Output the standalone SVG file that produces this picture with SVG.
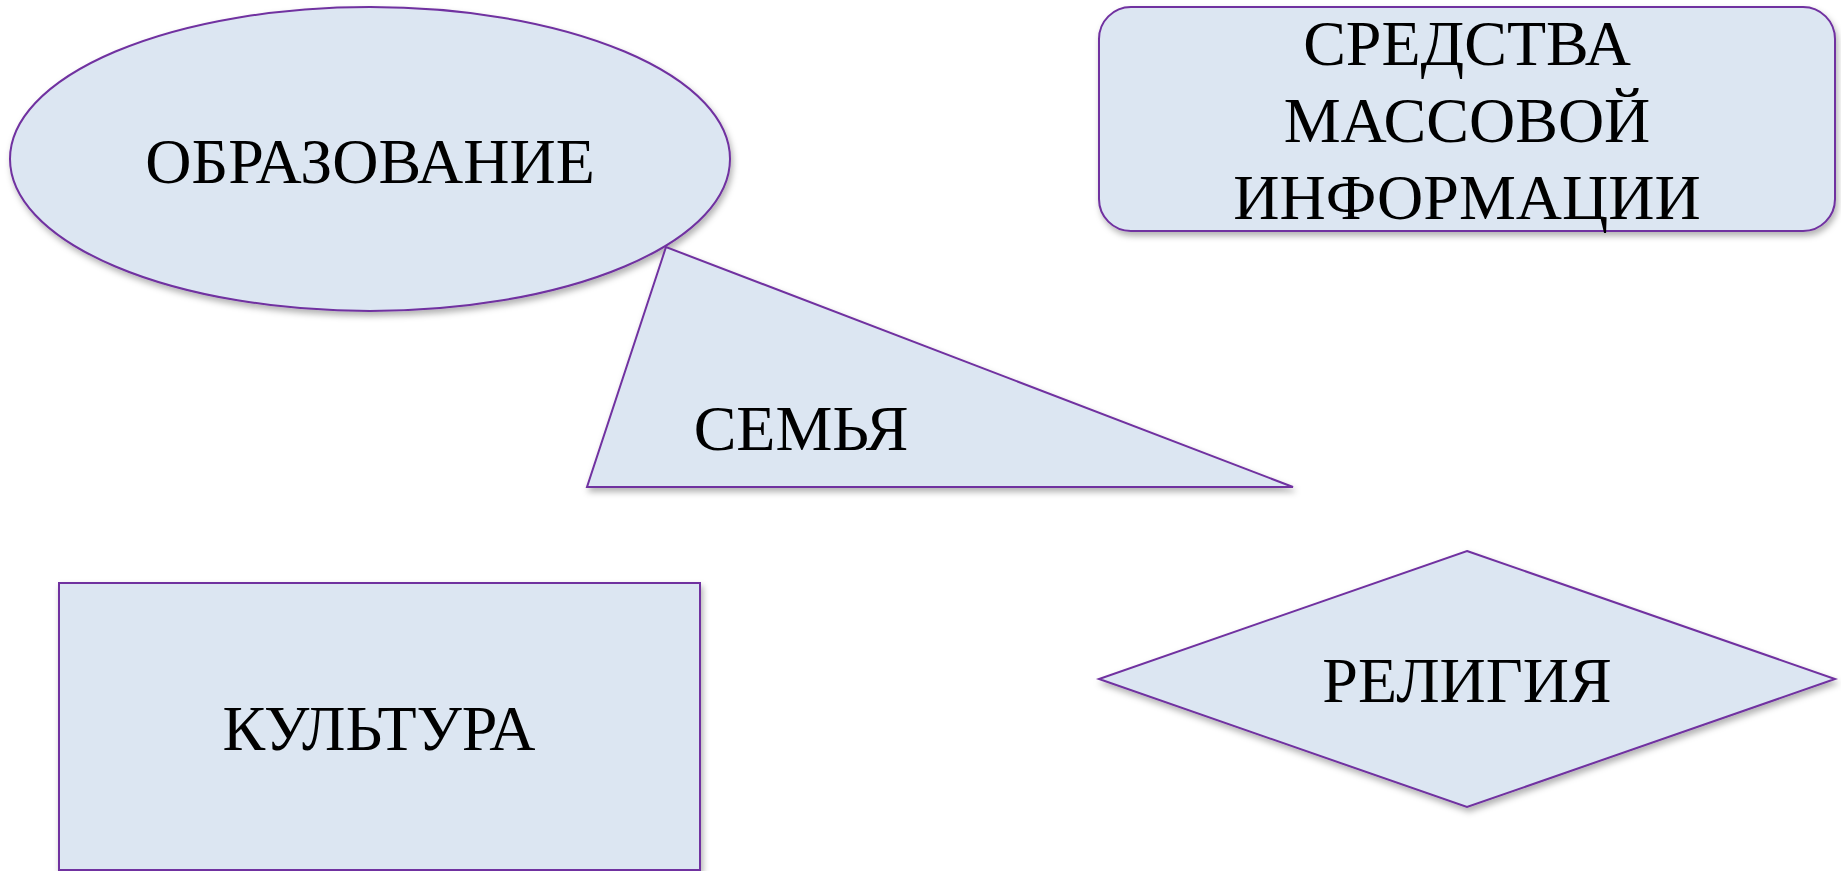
<svg xmlns="http://www.w3.org/2000/svg" width="1841" height="871" viewBox="0 0 1841 871">
<style>
.shape{fill:#DCE6F2;stroke:#7030A0;stroke-width:2;filter:url(#sh)}
.lbl{font-family:"Liberation Serif","Times New Roman",serif;font-size:64px;fill:#000;text-anchor:middle}
</style>
<defs>
<filter id="sh" x="-10%" y="-10%" width="125%" height="130%">
<feDropShadow dx="2" dy="4" stdDeviation="3" flood-color="#000" flood-opacity="0.3"/>
</filter>
</defs>
<rect width="1841" height="871" fill="#fff"/>
<g id="connectors"></g>
<g id="obrazovanie">
<ellipse class="shape" cx="370" cy="159" rx="360" ry="152"/>
<text class="lbl" x="370" y="183">ОБРАЗОВАНИЕ</text>
</g>
<g id="smi">
<rect class="shape" x="1099" y="7" width="736" height="224" rx="32" ry="32"/>
<text class="lbl" x="1467" y="65">СРЕДСТВА</text>
<text class="lbl" x="1467" y="142">МАССОВОЙ</text>
<text class="lbl" x="1467" y="219">ИНФОРМАЦИИ</text>
</g>
<g id="semya">
<polygon class="shape" points="666,247 587,487 1293,487"/>
<text class="lbl" x="801" y="450">СЕМЬЯ</text>
</g>
<g id="kultura">
<rect class="shape" x="59" y="583" width="641" height="287"/>
<text class="lbl" x="379" y="750">КУЛЬТУРА</text>
</g>
<g id="religiya">
<polygon class="shape" points="1467,551 1835,679 1467,807 1099,679"/>
<text class="lbl" x="1467" y="702">РЕЛИГИЯ</text>
</g>
</svg>
